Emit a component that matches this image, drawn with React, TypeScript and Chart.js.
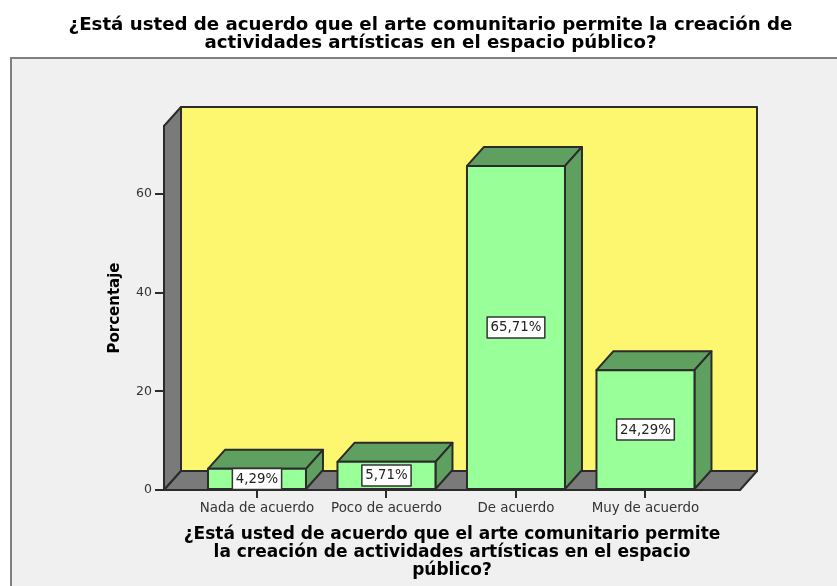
import React, { useEffect, useRef } from "react";
import { Chart, registerables } from "chart.js";

Chart.register(...registerables);

const categories = ["Nada de acuerdo", "Poco de acuerdo", "De acuerdo", "Muy de acuerdo"];
const percentages = [4.29, 5.71, 65.71, 24.29];
const percentLabels = ["4,29%", "5,71%", "65,71%", "24,29%"];
const yTicks = [0, 20, 40, 60];
const chartTitle = [
  "¿Está usted de acuerdo que el arte comunitario permite la creación de",
  "actividades artísticas en el espacio público?",
];
const xTitle = [
  "¿Está usted de acuerdo que el arte comunitario permite",
  "la creación de actividades artísticas en el espacio",
  "público?",
];
const yTitle = "Porcentaje";

const DEPTH_X = 17;
const DEPTH_Y = 19;
const LINE = "#2b2b2b";
const FONT = "'DejaVu Sans'";

function poly(ctx: CanvasRenderingContext2D, pts: number[][], fill: string) {
  ctx.beginPath();
  pts.forEach((p, i) => (i ? ctx.lineTo(p[0], p[1]) : ctx.moveTo(p[0], p[1])));
  ctx.closePath();
  ctx.fillStyle = fill;
  ctx.fill();
  ctx.lineWidth = 2;
  ctx.strokeStyle = LINE;
  ctx.lineJoin = "round";
  ctx.stroke();
}

const scene = {
  id: "scene",
  afterLayout(chart: any) {
    const t = chart.titleBlock;
    if (t) {
      t.left = 24;
      t.right = 837;
    }
  },
  beforeDraw(chart: any) {
    const { ctx, chartArea: a } = chart;
    ctx.save();
    ctx.fillStyle = "#ffffff";
    ctx.fillRect(0, 0, chart.width, chart.height);
    ctx.fillStyle = "#f0f0f0";
    ctx.fillRect(10, 57, chart.width - 10, chart.height - 57);
    ctx.strokeStyle = "#808080";
    ctx.lineWidth = 2;
    ctx.beginPath();
    ctx.moveTo(11, chart.height);
    ctx.lineTo(11, 58);
    ctx.lineTo(chart.width, 58);
    ctx.stroke();
    const { left: l, right: r, top: t, bottom: b } = a;
    const dx = DEPTH_X;
    const dy = DEPTH_Y;
    poly(ctx, [[l + dx, t - dy], [r + dx, t - dy], [r + dx, b - dy], [l + dx, b - dy]], "#fdf76f");
    poly(ctx, [[l, t], [l + dx, t - dy], [l + dx, b - dy], [l, b]], "#7a7a7a");
    poly(ctx, [[l, b], [l + dx, b - dy], [r + dx, b - dy], [r, b]], "#7a7a7a");
    ctx.restore();
  },
  afterDatasetsDraw(chart: any) {
    const { ctx } = chart;
    const meta = chart.getDatasetMeta(0);
    ctx.save();
    meta.data.forEach((bar: any) => {
      const w = bar.width / 2;
      const l = bar.x - w;
      const r = bar.x + w;
      const t = bar.y;
      const b = bar.base;
      poly(ctx, [[l, t], [l + DEPTH_X, t - DEPTH_Y], [r + DEPTH_X, t - DEPTH_Y], [r, t]], "#5f9f5f");
      poly(ctx, [[r, t], [r + DEPTH_X, t - DEPTH_Y], [r + DEPTH_X, b - DEPTH_Y], [r, b]], "#5f9f5f");
      poly(ctx, [[l, t], [r, t], [r, b], [l, b]], "#99ff99");
    });
    ctx.font = `13.3px ${FONT}`;
    ctx.textAlign = "center";
    ctx.textBaseline = "middle";
    meta.data.forEach((bar: any, i: number) => {
      const cy = (bar.y + bar.base) / 2;
      const txt = percentLabels[i];
      const tw = ctx.measureText(txt).width + 7;
      ctx.fillStyle = "#ffffff";
      ctx.fillRect(bar.x - tw / 2, cy - 10.5, tw, 21);
      ctx.strokeStyle = "#333333";
      ctx.lineWidth = 1.5;
      ctx.strokeRect(bar.x - tw / 2, cy - 10.5, tw, 21);
      ctx.fillStyle = "#222222";
      ctx.fillText(txt, bar.x, cy + 0.5);
    });
    ctx.restore();
  },
};

export default function App() {
  const ref = useRef<HTMLCanvasElement>(null);
  useEffect(() => {
    const chart = new Chart(ref.current as HTMLCanvasElement, {
      type: "bar",
      data: {
        datasets: [
          {
            data: percentages.map((v, i) => ({ x: i, y: v })),
            backgroundColor: "#99ff99",
            barThickness: 98,
          },
        ],
      },
      plugins: [scene],
      options: {
        animation: false,
        responsive: false,
        layout: { padding: { top: 16, left: 0, right: 97, bottom: 0 } },
        plugins: {
          legend: { display: false },
          tooltip: { enabled: false },
          title: {
            display: true,
            text: chartTitle,
            color: "#000000",
            font: { family: FONT, size: 18.2, weight: "bold", lineHeight: 0.99 },
            padding: { top: 0, bottom: 74 },
          },
        },
        scales: {
          x: {
            type: "linear",
            offset: false,
            min: -0.718,
            max: 3.73,
            afterBuildTicks: (axis: any) => {
              axis.ticks = categories.map((_, i) => ({ value: i }));
            },
            afterFit: (axis: any) => {
              axis.height = 96;
            },
            grid: { offset: false, drawOnChartArea: false, drawTicks: true, tickLength: 8, color: LINE, lineWidth: 2 },
            border: { display: true, color: LINE, width: 2 },
            ticks: {
              autoSkip: false,
              maxRotation: 0,
              padding: 2,
              color: "#333333",
              font: { family: FONT, size: 13.4 },
              callback: (v: any) => categories[v] ?? "",
            },
            title: {
              display: true,
              text: xTitle,
              color: "#000000",
              font: { family: FONT, size: 17, weight: "bold", lineHeight: 1.06 },
              padding: { top: 0, bottom: 6 },
            },
          },
          y: {
            min: 0,
            max: 73.8,
            afterBuildTicks: (axis: any) => {
              axis.ticks = yTicks.map((value) => ({ value }));
            },
            afterFit: (axis: any) => {
              axis.width = 164;
            },
            grid: { drawOnChartArea: false, drawTicks: true, tickLength: 9, color: LINE, lineWidth: 2 },
            border: { display: true, color: LINE, width: 2 },
            ticks: {
              padding: 3,
              color: "#333333",
              font: { family: FONT, size: 12.5 },
            },
            title: {
              display: true,
              text: yTitle,
              color: "#000000",
              font: { family: FONT, size: 15, weight: "bold", lineHeight: 1.2 },
              padding: { top: 106, bottom: 0 },
            },
          },
        },
      },
    } as any);
    return () => chart.destroy();
  }, []);
  return (
    <div style={{ position: "fixed", left: 0, top: 0, width: 837, height: 586 }}>
      <canvas ref={ref} width={837} height={586} style={{ display: "block" }} />
    </div>
  );
}
